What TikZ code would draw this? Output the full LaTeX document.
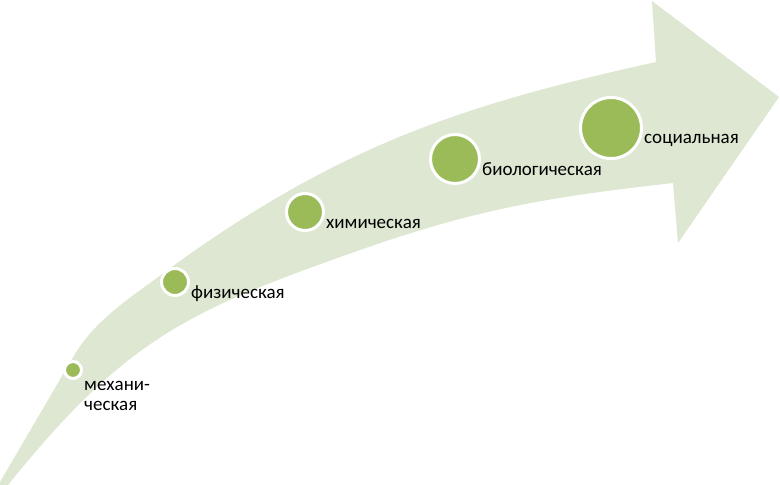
\documentclass[tikz,border=0pt]{standalone}
\usepackage{fontspec}
\setmainfont{Carlito}
\usepackage{tikz}
\definecolor{bandgreen}{RGB}{221,231,209}
\definecolor{dotgreen}{RGB}{155,187,89}
\tikzset{
dot/.style={circle, draw=white, line width=3pt, fill=dotgreen, inner sep=0pt}, % green dot with a white ring
lbl/.style={font=\fontsize{19}{20}\selectfont, inner sep=0pt, anchor=base west, align=left}, % text beside a dot
}

\begin{document}
\begin{tikzpicture}[x=1pt, y=-1pt]
    \useasboundingbox (0,0) rectangle (780,485);
    % the curved arrow
    \fill[bandgreen] (0,482) -- (72,359) .. controls (88,331) and (108,313) .. (150,283)
        .. controls (330,148) and (457,106) .. (656,62)
        -- (652,1) -- (779,97) -- (678,243) -- (673,183)
        .. controls (550,197) and (480,208) .. (360,250)
        .. controls (190,310) and (127,337) .. (8,485)
        -- (0,485) -- cycle;
    % dots
    \node[dot, minimum size=17pt] (mech) at (73,370) {};
    \node[dot, minimum size=27pt] (phys) at (175,282) {};
    \node[dot, minimum size=37pt] (chem) at (305,212) {};
    \node[dot, minimum size=49pt] (bio) at (455,159) {};
    \node[dot, minimum size=61pt] (soc) at (611,128) {};
    % labels
    \node[lbl] (tmech) at ([shift={(1,40)}]mech.east) {механи-\\ческая};
    \node[lbl] (tphys) at ([shift={(1,16)}]phys.east) {физическая};
    \node[lbl] (tchem) at ([shift={(1,16)}]chem.east) {химическая};
    \node[lbl] (tbio) at ([shift={(1,16)}]bio.east) {биологическая};
    \node[lbl] (tsoc) at ([shift={(1,15)}]soc.east) {социальная};
\end{tikzpicture}
\end{document}
